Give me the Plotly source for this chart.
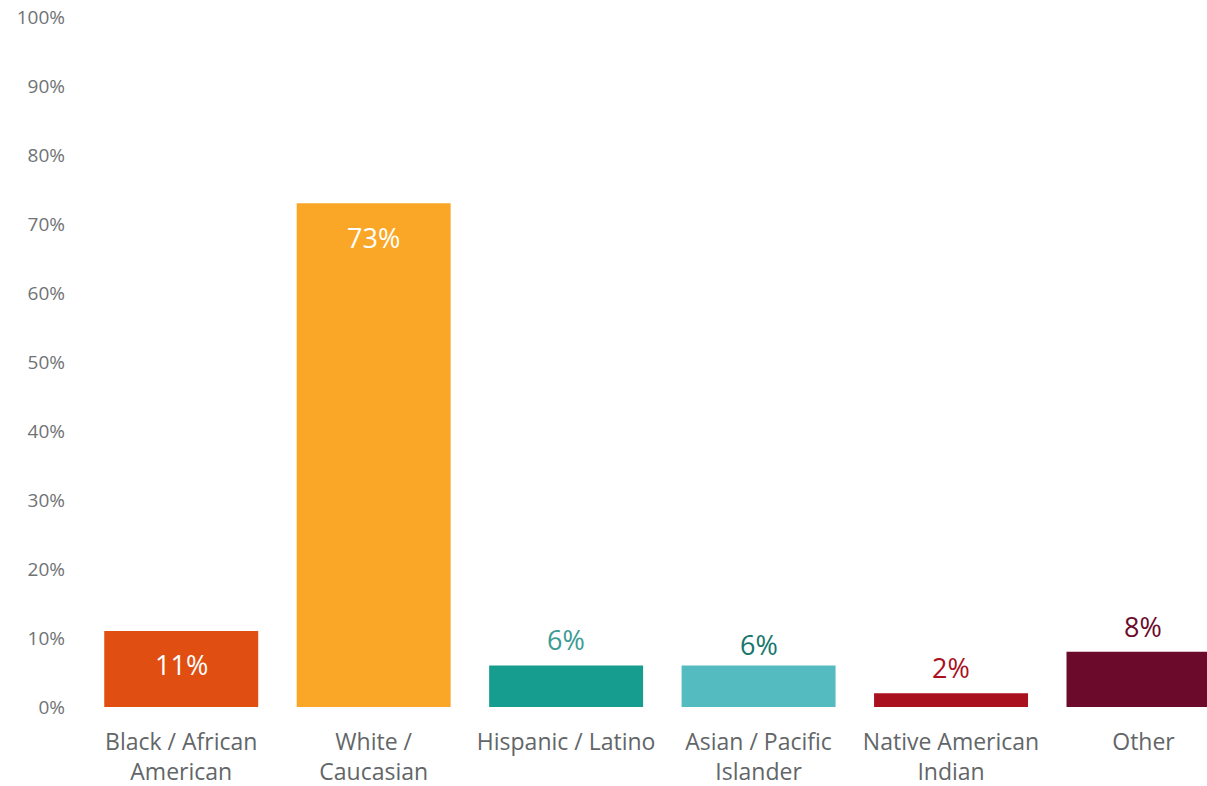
import plotly.graph_objects as go

categories = ["Black / African<br>American", "White /<br>Caucasian", "Hispanic / Latino",
              "Asian / Pacific<br>Islander", "Native American<br>Indian", "Other"]
values = [11, 73, 6, 6, 2, 8]
tick_vals = [0, 10, 20, 30, 40, 50, 60, 70, 80, 90, 100]
tick_text = [f"{v}%" for v in tick_vals]

bar_colors = ["#E04E12", "#FAA727", "#169D8F", "#54BBC0", "#AA111E", "#6B0A2B"]
label_colors = ["#FFFFFF", "#FFFFFF", "#3B9C94", "#17766B", "#AA111E", "#6B0A2B"]
# vertical offset of each value label from the bar top, in pixels
label_shift = [-33, -34, 26, 21, 26, 25]

x = list(range(len(categories)))

fig = go.Figure(go.Bar(
    x=x, y=values, width=0.8,
    marker=dict(color=bar_colors, line=dict(width=0)),
    hoverinfo="skip",
))

for i, (v, c, s) in enumerate(zip(values, label_colors, label_shift)):
    fig.add_annotation(x=i, y=v, text=f"{v}%", showarrow=False,
                       xanchor="center", yanchor="middle", yshift=s,
                       font=dict(family="Open Sans", size=27, color=c))

fig.update_layout(
    width=1207, height=786,
    margin=dict(l=85, r=0, t=17, b=79),
    paper_bgcolor="white", plot_bgcolor="white",
    showlegend=False,
    bargap=0.2,
    xaxis=dict(range=[-0.5, 5.33], tickvals=x, ticktext=categories,
               showgrid=False, zeroline=False, showline=False, ticks="",
               ticklabelstandoff=19,
               tickfont=dict(family="Open Sans", size=23, color="#626668")),
    yaxis=dict(range=[0, 100], tickvals=tick_vals, ticktext=tick_text,
               showgrid=False, zeroline=False, showline=False, ticks="",
               ticklabelstandoff=19,
               tickfont=dict(family="Open Sans", size=19, color="#707375")),
)

fig.write_html("out.html")
